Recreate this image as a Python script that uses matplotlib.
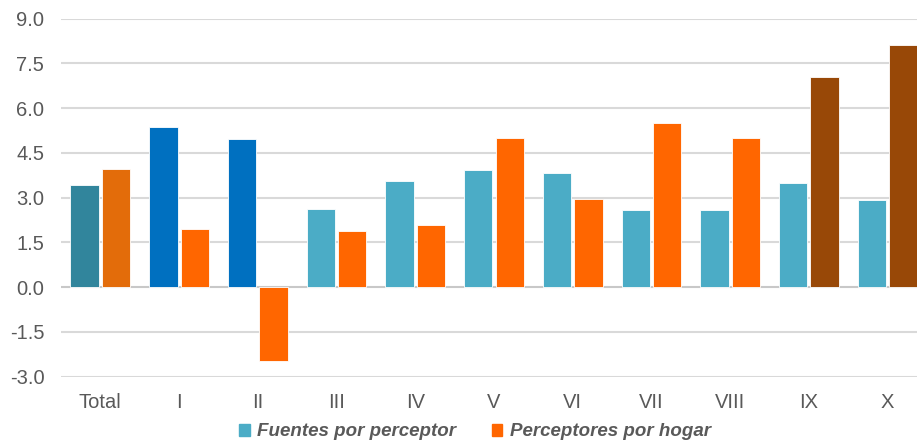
import numpy as np
import matplotlib.pyplot as plt
from matplotlib.patches import Patch

plt.rcParams['font.family'] = ['Liberation Sans', 'DejaVu Sans']

categories = ["Total", "I", "II", "III", "IV", "V", "VI", "VII", "VIII", "IX", "X"]
fuentes = [3.43, 5.35, 4.95, 2.63, 3.57, 3.91, 3.84, 2.57, 2.57, 3.48, 2.92]
perceptores = [3.97, 1.96, -2.46, 1.89, 2.07, 5.01, 2.96, 5.50, 4.98, 7.03, 8.12]
yticks = [-3.0, -1.5, 0.0, 1.5, 3.0, 4.5, 6.0, 7.5, 9.0]

fuentes_colors = ["#31859C", "#0070C0", "#0070C0"] + ["#4BACC6"] * 8
perceptores_colors = ["#E36C0A"] + ["#FF6600"] * 8 + ["#984807"] * 2

text_color = "#595959"
grid_color = "#D9D9D9"

fig = plt.figure(figsize=(9.17, 4.45), dpi=100)
ax = fig.add_axes([61 / 917, 68.3 / 445, 866 / 917, 358.2 / 445])

x = np.arange(len(categories))
w = 0.36
gap = 0.02
ax.bar(x - w / 2 - gap, fuentes, w, color=fuentes_colors, edgecolor="white", linewidth=0.6, zorder=3)
ax.bar(x + w / 2 + gap, perceptores, w, color=perceptores_colors, edgecolor="white", linewidth=0.6, zorder=3)

ax.set_xlim(-0.5, len(categories) - 0.5)
ax.set_ylim(-3.0, 9.0)
ax.set_yticks(yticks)
ax.set_yticklabels([f"{v:.1f}" for v in yticks])
ax.set_xticks(x)
ax.set_xticklabels(categories)

for v in yticks:
    ax.axhline(v, color=grid_color if v != 0 else "#C8C8C8", lw=1.5, zorder=1)

for s in ax.spines.values():
    s.set_visible(False)
ax.tick_params(axis="both", length=0, labelsize=14.5, colors=text_color)
ax.tick_params(axis="y", pad=12)
ax.tick_params(axis="x", pad=12)

handles = [Patch(color="#4BACC6"), Patch(color="#FF6600")]
labels = ["Fuentes por perceptor", "Perceptores por hogar"]
fig.legend(handles, labels, loc="center", bbox_to_anchor=(475 / 917, 1 - 432 / 445),
           ncol=2, frameon=False, handlelength=0.55, handleheight=0.55,
           handletextpad=0.4, columnspacing=1.9,
           prop={"size": 13.5, "weight": "bold", "style": "italic"}, labelcolor=text_color)

fig.savefig("out.png", dpi=100)
